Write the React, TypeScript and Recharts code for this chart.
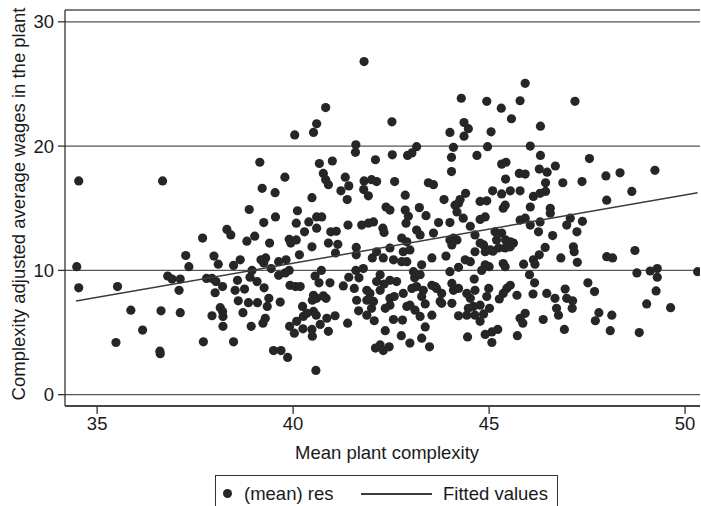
import React from 'react';
import { ScatterChart, Scatter, XAxis, YAxis, CartesianGrid } from 'recharts';

const seriesNames = ['(mean) res', 'Fitted values'];
const xTicks = [35, 40, 45, 50];
const yTicks = [0, 10, 20, 30];
const xTitle = 'Mean plant complexity';
const yTitle = 'Complexity adjusted average wages in the plant';

// Fitted values (linear fit) end points
const fitX = [34.46, 50.32];
const fitY = [7.53, 16.25];

// (mean) res : [complexity, wage]
const resLeft: [number, number][] = [
  [34.53, 17.2], [34.48, 10.3], [34.53, 8.6], [35.52, 8.7], [35.48, 4.2],
  [35.86, 6.8], [36.16, 5.2], [36.63, 6.75], [37.12, 6.6], [36.6, 3.5], [36.61, 3.3],
  [36.8, 9.55], [36.91, 9.3], [37.12, 9.3], [37.09, 8.4], [37.26, 11.2], [37.34, 10.3],
  [37.69, 12.6], [37.98, 11.15], [38.09, 10.5], [37.79, 9.35], [37.93, 9.35], [38.03, 9.1],
  [38.2, 8.7], [38.01, 8.2], [37.93, 6.35], [38.14, 7.0], [38.2, 6.7], [38.21, 6.3],
  [38.21, 5.5], [37.71, 4.25], [38.48, 4.25], [38.31, 13.3], [38.41, 12.85], [38.48, 10.4],
  [38.65, 10.85], [38.88, 14.9], [39.02, 12.75], [38.82, 12.35], [39.25, 13.85], [39.55, 14.3],
  [39.4, 12.2], [38.58, 9.2], [38.52, 8.4], [38.76, 8.5], [38.6, 7.55], [38.86, 7.4],
  [39.09, 7.4], [38.72, 6.6], [38.93, 5.5], [38.95, 10.0], [38.9, 9.45], [39.08, 9.1],
  [39.18, 10.85], [39.3, 11.0], [39.25, 10.6], [39.26, 8.6], [39.38, 7.75], [39.34, 7.1],
  [39.29, 6.15], [39.23, 5.75], [39.44, 10.15], [39.63, 9.6], [39.67, 7.45], [39.63, 10.7],
  [39.82, 10.85], [39.9, 10.0], [39.8, 9.8], [39.92, 8.8], [40.06, 8.7], [40.18, 8.7],
  [39.9, 12.5], [39.94, 12.2], [40.08, 12.45], [40.16, 11.25], [40.11, 14.8], [40.08, 13.8],
  [40.29, 13.1], [40.4, 13.9], [40.6, 14.3], [40.73, 14.3], [40.6, 13.4], [40.48, 11.9],
  [40.72, 10.0], [40.56, 9.55], [40.66, 9.0], [40.94, 9.0], [40.52, 8.0], [40.6, 7.75],
  [40.49, 7.6], [40.77, 7.95], [40.84, 7.75], [40.24, 7.1], [40.35, 6.55], [40.52, 6.7],
  [40.59, 6.4], [40.26, 6.3], [40.09, 5.9], [39.91, 5.5], [40.03, 4.95], [40.25, 5.3],
  [40.48, 5.25], [40.49, 4.7], [40.69, 5.65], [40.86, 6.15], [41.07, 6.35], [40.9, 5.1],
  [39.5, 3.55], [39.69, 3.55], [39.86, 3.0], [40.58, 1.95], [40.9, 12.2], [41.14, 12.1],
  [41.08, 11.4], [40.96, 13.1], [41.1, 13.15], [41.4, 13.65], [41.75, 13.65], [41.92, 13.8],
  [42.05, 13.9], [41.61, 11.85], [41.61, 11.25], [42.02, 11.0], [41.6, 10.0], [41.79, 10.15],
  [41.42, 9.45], [41.28, 8.75], [41.68, 9.4], [41.56, 8.55], [41.88, 8.4], [41.96, 8.15],
  [41.62, 7.6], [41.88, 7.6], [42.05, 7.5], [42.0, 6.95], [41.67, 6.75], [41.88, 6.4],
  [42.07, 5.95], [41.39, 5.75], [42.1, 3.75],
];

const resTopLeft: [number, number][] = [
  [41.81, 26.8], [40.83, 23.1], [40.6, 21.8], [40.52, 21.1], [40.04, 20.9], [41.6, 20.1],
  [41.59, 19.5], [39.15, 18.7], [36.67, 17.2], [40.67, 18.6], [41.0, 18.8], [42.1, 18.9],
  [39.79, 17.5], [39.21, 16.6], [39.54, 16.25], [40.77, 17.8], [40.83, 17.3], [40.9, 16.9],
  [41.33, 17.5], [41.42, 16.8], [41.22, 16.4], [41.81, 17.2], [42.0, 17.3], [41.8, 16.5],
  [41.92, 16.0], [40.48, 15.85], [41.38, 15.7],
];

const resTopRight: [number, number][] = [
  [45.92, 25.05], [44.29, 23.85], [44.94, 23.6], [45.79, 23.65], [47.19, 23.6], [45.31, 23.05],
  [45.57, 22.2], [42.52, 21.95], [44.36, 21.9], [44.47, 21.4], [44.36, 20.8], [44.0, 21.1],
  [45.05, 21.15], [46.31, 21.6], [44.09, 19.9], [44.96, 19.95], [46.05, 20.0], [43.15, 19.95],
  [43.03, 19.45], [42.92, 19.25], [42.53, 19.3], [44.04, 19.1], [44.69, 19.25], [46.31, 19.25],
  [47.56, 19.0], [44.04, 17.95], [45.32, 18.55], [45.43, 18.7], [45.42, 17.35], [45.77, 17.8],
  [45.92, 17.75], [46.28, 18.15], [46.48, 17.9], [46.69, 18.4], [46.44, 17.05], [46.88, 17.05],
  [47.37, 17.15], [47.98, 17.6], [48.34, 17.85], [49.23, 18.05], [48.64, 16.35], [48.0, 15.65],
  [42.13, 17.15], [42.59, 17.15], [43.45, 17.05], [43.58, 16.9], [42.86, 16.05], [43.85, 15.7],
  [44.4, 16.2], [44.26, 15.7], [45.09, 16.4], [45.32, 16.15], [45.54, 16.4], [45.79, 16.4],
  [46.13, 15.95], [46.3, 16.2], [46.44, 16.35],
];

const resRight: [number, number][] = [
  [44.77, 15.55], [44.94, 15.6], [44.22, 15.4], [44.13, 15.25], [44.18, 14.7], [45.41, 15.25],
  [45.36, 15.0], [46.05, 15.1], [46.56, 15.0], [46.56, 14.6], [42.37, 15.1], [42.47, 14.85],
  [42.86, 14.85], [43.22, 15.05], [42.94, 14.35], [43.39, 14.4], [42.88, 13.8], [42.29, 13.4],
  [42.32, 13.05], [43.15, 13.25], [43.24, 12.85], [43.71, 13.85], [44.0, 13.85], [43.58, 13.0],
  [44.52, 13.55], [44.77, 14.1], [44.9, 14.3], [44.34, 14.2], [44.64, 12.85], [45.15, 13.1],
  [45.32, 13.0], [45.79, 14.05], [45.92, 14.2], [46.05, 13.65], [46.3, 13.9], [46.26, 13.1],
  [46.62, 12.8], [46.98, 13.65], [47.07, 14.2], [47.24, 13.1], [47.38, 13.95], [45.42, 12.45],
  [45.54, 12.3], [45.62, 12.2], [45.19, 12.45], [45.24, 11.8], [45.03, 11.65], [44.86, 12.05],
  [44.77, 12.2], [44.9, 11.5], [45.1, 11.55], [45.41, 11.8], [45.54, 11.9], [44.0, 12.45],
  [44.09, 12.6], [44.18, 12.45], [44.05, 12.05], [44.64, 11.5], [43.9, 11.15], [43.54, 11.0],
  [44.39, 10.85], [44.52, 10.7], [44.22, 10.25], [44.0, 9.9], [44.9, 10.45], [45.0, 10.3],
  [44.81, 10.0], [45.36, 10.55], [45.41, 10.3], [45.88, 10.5], [46.13, 10.85], [46.17, 10.5],
  [46.28, 11.25], [46.43, 11.85], [46.83, 11.0], [47.15, 11.9], [47.17, 11.5], [47.25, 10.65],
  [48.0, 11.1], [48.15, 11.0], [48.72, 11.6], [48.77, 9.8], [49.11, 9.95], [49.29, 10.15],
  [49.29, 9.45], [50.32, 9.9], [49.26, 8.35], [49.02, 7.3], [49.63, 7.0], [48.83, 5.0],
  [48.09, 5.15], [48.13, 6.4], [47.8, 6.6], [47.71, 5.95], [47.52, 9.0], [47.69, 8.3],
  [46.92, 5.25], [47.12, 6.95], [47.13, 7.55], [46.98, 7.75], [46.94, 8.5], [46.77, 6.4],
  [46.72, 6.95], [46.68, 7.75], [46.47, 8.15], [46.38, 6.05], [46.12, 8.1], [46.16, 9.0],
  [46.03, 9.65], [45.71, 8.0], [45.54, 8.8], [45.45, 8.55], [45.36, 8.15], [45.26, 7.7],
  [45.92, 6.55], [45.79, 6.15], [45.86, 5.75], [45.72, 4.75], [45.22, 5.25], [45.07, 5.05],
  [44.9, 4.85], [45.07, 4.2], [44.45, 4.65], [44.99, 8.55], [44.94, 7.9], [45.01, 6.95],
  [44.86, 6.5], [44.77, 5.9], [44.6, 7.1], [44.77, 7.2], [44.47, 6.95], [44.43, 6.4],
  [44.64, 6.4], [44.22, 6.35], [44.64, 8.4], [44.43, 8.15], [44.62, 9.3], [44.22, 8.55],
  [44.05, 8.95], [44.09, 8.4], [44.05, 7.35], [43.79, 7.35], [43.79, 8.15], [43.62, 8.7],
  [43.75, 7.5], [43.54, 6.4], [43.37, 5.45], [43.28, 4.55], [43.48, 3.85], [42.98, 4.15],
  [42.76, 4.75], [42.35, 5.15], [42.45, 3.85], [42.22, 4.0], [42.3, 3.55], [42.56, 6.05],
  [42.79, 6.0], [43.24, 6.3], [43.11, 6.8], [42.98, 7.2], [42.9, 7.1], [42.47, 7.2],
  [42.35, 6.95], [42.47, 7.75], [42.58, 7.9], [42.81, 8.15], [43.03, 8.55], [43.28, 7.9],
  [43.37, 7.3], [43.32, 8.4], [42.22, 8.4], [42.32, 8.9], [42.13, 9.1], [42.47, 9.2],
  [42.64, 9.1], [42.22, 9.65], [43.07, 9.9], [43.1, 9.4], [43.24, 9.65], [43.15, 8.7],
  [43.54, 8.8], [43.66, 8.55], [44.52, 7.75], [42.13, 11.5], [42.3, 11.0], [42.56, 10.85],
  [42.77, 10.7], [42.9, 10.7], [43.28, 10.45], [42.81, 11.5], [42.98, 11.65], [42.77, 12.6],
  [42.9, 12.3], [42.47, 11.8],
];

const FONT = '"Liberation Sans", Arial, Helvetica, sans-serif';
const DOT = '#262626';
const LINE = '#3c3c3c';

const Dot = (props: any) => {
  const { cx, cy } = props;
  if (cx == null || cy == null) return <g />;
  return <circle cx={cx} cy={cy} r={4.6} fill={DOT} />;
};

const NoDot = () => <g />;

export default function App() {
  const resData = [...resLeft, ...resTopLeft, ...resTopRight, ...resRight].map(([x, y]) => ({ x, y }));
  const fitData = fitX.map((x, i) => ({ x, y: fitY[i] }));

  return (
    <div style={{ position: 'absolute', left: 0, top: 0, width: 701, height: 506, background: '#fff', fontFamily: FONT }}>
      <ScatterChart width={701} height={506} margin={{ top: 10, right: 1, bottom: 50, left: 0 }}>
        <CartesianGrid vertical={false} stroke="#555" strokeWidth={1.3} />
        <XAxis
          type="number"
          dataKey="x"
          domain={[34.18, 50.38]}
          ticks={xTicks}
          allowDataOverflow
          height={50}
          tickSize={8}
          tickMargin={3}
          tick={{ fill: '#1a1a1a', fontSize: 18.5, fontFamily: FONT }}
          axisLine={{ stroke: '#333', strokeWidth: 1.3 }}
          tickLine={{ stroke: '#333', strokeWidth: 1.3 }}
          label={{
            content: () => (
              <text x={387} y={452} textAnchor="middle" dominantBaseline="central" fontSize={18.5} fontFamily={FONT} fill="#1a1a1a">
                {xTitle}
              </text>
            ),
          }}
        />
        <YAxis
          type="number"
          dataKey="y"
          domain={[-0.91, 30.95]}
          ticks={yTicks}
          allowDataOverflow
          width={65}
          tickSize={7}
          tickMargin={4}
          tick={{ fill: '#1a1a1a', fontSize: 18.5, fontFamily: FONT }}
          axisLine={{ stroke: '#333', strokeWidth: 1.3 }}
          tickLine={{ stroke: '#333', strokeWidth: 1.3 }}
          label={{
            content: () => (
              <text x={18} y={204} transform="rotate(-90 18 204)" textAnchor="middle" dominantBaseline="central" fontSize={18.5} fontFamily={FONT} fill="#1a1a1a">
                {yTitle}
              </text>
            ),
          }}
        />
        <Scatter name={seriesNames[0]} data={resData} shape={Dot} isAnimationActive={false} />
        <Scatter name={seriesNames[1]} data={fitData} shape={NoDot} line={{ stroke: LINE, strokeWidth: 1.5 }} isAnimationActive={false} />
      </ScatterChart>
      <div
        style={{
          position: 'absolute', left: 215, top: 475, width: 343, height: 40, boxSizing: 'border-box',
          border: '1px solid #333', borderBottom: 'none', background: '#fff', fontSize: 18.5, color: '#1a1a1a',
        }}
      >
        <div style={{ position: 'absolute', left: 7, top: 13, width: 9.2, height: 9.2, borderRadius: '50%', background: DOT }} />
        <span style={{ position: 'absolute', left: 28, top: 6, lineHeight: '24px', whiteSpace: 'nowrap' }}>{seriesNames[0]}</span>
        <div style={{ position: 'absolute', left: 145, top: 17, width: 71, height: 1.5, background: LINE }} />
        <span style={{ position: 'absolute', left: 227, top: 6, lineHeight: '24px', whiteSpace: 'nowrap' }}>{seriesNames[1]}</span>
      </div>
    </div>
  );
}
